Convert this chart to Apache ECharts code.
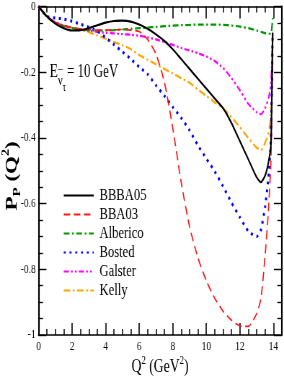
<!DOCTYPE html>
<html>
<head>
<meta charset="utf-8">
<script src="https://cdn.jsdelivr.net/npm/echarts@6/dist/echarts.min.js"></script>
<style>
html,body{margin:0;padding:0;background:#fff;overflow:hidden;width:284px;height:382px;}
#c{width:394px;height:382px;transform:scaleX(0.72081);transform-origin:0 0;}
</style>
</head>
<body>
<div id="c"></div>
<script>
// Q^2 sample points (GeV^2)
var q2 = [0, 0.5, 1, 1.5, 2, 2.5, 3, 3.5, 4, 4.5, 5, 5.5, 6, 6.5, 7, 7.5, 8, 8.5, 9, 9.5, 10, 10.5, 11, 11.5, 12, 12.5, 13, 13.25, 13.5, 13.7, 13.85, 13.95];
// Polarization P_P(Q^2)
var bbba05 = [0, -0.03, -0.052, -0.066, -0.073, -0.072, -0.066, -0.057, -0.049, -0.044, -0.043, -0.046, -0.055, -0.068, -0.085, -0.105, -0.13, -0.16, -0.19, -0.22, -0.25, -0.28, -0.31, -0.355, -0.41, -0.465, -0.52, -0.535, -0.515, -0.475, -0.42, -0.08];
var bba03 = [0, -0.03, -0.048, -0.058, -0.064, -0.068, -0.07, -0.072, -0.072, -0.071, -0.07, -0.072, -0.076, -0.1, -0.145, -0.23, -0.37, -0.535, -0.67, -0.765, -0.835, -0.888, -0.928, -0.955, -0.972, -0.974, -0.935, -0.89, -0.76, -0.62, -0.47, -0.08];
var alberico = [0, -0.032, -0.05, -0.06, -0.066, -0.07, -0.072, -0.073, -0.073, -0.072, -0.07, -0.068, -0.066, -0.064, -0.062, -0.06, -0.058, -0.057, -0.056, -0.055, -0.055, -0.055, -0.056, -0.058, -0.061, -0.066, -0.073, -0.077, -0.081, -0.083, -0.083, -0.035];
var bosted = [0, -0.03, -0.035, -0.038, -0.045, -0.054, -0.063, -0.075, -0.095, -0.116, -0.138, -0.16, -0.184, -0.206, -0.24, -0.272, -0.306, -0.339, -0.377, -0.423, -0.463, -0.502, -0.548, -0.597, -0.642, -0.684, -0.70, -0.68, -0.61, -0.52, -0.4, -0.08];
var galster = [0, -0.03, -0.048, -0.058, -0.065, -0.07, -0.074, -0.077, -0.08, -0.082, -0.084, -0.086, -0.089, -0.094, -0.1, -0.108, -0.117, -0.126, -0.134, -0.142, -0.152, -0.166, -0.187, -0.218, -0.255, -0.296, -0.322, -0.328, -0.31, -0.28, -0.24, -0.08];
var kelly = [0, -0.03, -0.048, -0.058, -0.065, -0.071, -0.078, -0.088, -0.098, -0.108, -0.118, -0.13, -0.148, -0.162, -0.176, -0.19, -0.204, -0.218, -0.232, -0.253, -0.272, -0.292, -0.31, -0.337, -0.367, -0.4, -0.43, -0.437, -0.415, -0.385, -0.33, -0.08];
var seriesNames = ['BBBA05', 'BBA03', 'Alberico', 'Bosted', 'Galster', 'Kelly'];
var xTicks = [0, 2, 4, 6, 8, 10, 12, 14];
var yTicks = [0, -0.2, -0.4, -0.6, -0.8, -1];

var FONT = '"Liberation Serif", "Times New Roman", serif';
var S = 0.72081; // horizontal condensing of the whole figure
function pairs(ys){ return q2.map(function(x,i){ return [x, ys[i]]; }); }
var styles = [
  {color:'#000000', width:2.1, type:'solid'},
  {color:'#ff1a1a', width:1.7, type:[9,5]},
  {color:'#009900', width:2.2, type:[8,3.5,2.5,3.5]},
  {color:'#0000ff', width:3, type:[2.8,5.2]},
  {color:'#ff00ff', width:2.2, type:[7,3,2.5,3,2.5,3]},
  {color:'#ffa500', width:2.2, type:[9,3.5,2.5,3.5]}
];
var dataSets = [bbba05, bba03, alberico, bosted, galster, kelly];
var series = dataSets.map(function(d,i){
  return {
    name: seriesNames[i], type:'line', data: pairs(d), showSymbol:false, symbol:'none',
    smooth: 0.2, xAxisIndex:0, yAxisIndex:0,
    lineStyle:{color:styles[i].color, width:styles[i].width, type:styles[i].type},
    itemStyle:{color:styles[i].color}, z: 10-i
  };
});

function xAx(pos, labels){
  return {
    type:'value', position:pos, min:0, max:14.5, interval:2,
    axisLine:{show:true, onZero:false, lineStyle:{color:'#000', width:1.6}},
    axisTick:{show:true, inside:true, length:12, lineStyle:{color:'#000', width:1.6}},
    minorTick:{show:true, splitNumber:4, length:6, lineStyle:{color:'#000', width:1.5}},
    splitLine:{show:false},
    axisLabel:{show:labels, margin:5, color:'#000', fontFamily:FONT, fontSize:13,
      formatter:function(v){ return xTicks.indexOf(v) >= 0 ? String(v) : ''; }}
  };
}
function yAx(pos, labels){
  return {
    type:'value', position:pos, min:-1, max:0, interval:0.2,
    axisLine:{show:true, onZero:false, lineStyle:{color:'#000', width:2.1}},
    axisTick:{show:true, inside:true, length:11, lineStyle:{color:'#000', width:1.4}},
    minorTick:{show:true, splitNumber:4, length:6.2, lineStyle:{color:'#000', width:1.3}},
    splitLine:{show:false},
    axisLabel:{show:labels, margin:4, color:'#000', fontFamily:FONT, fontSize:13,
      formatter:function(v){
        var r = Math.round(v*10)/10;
        for (var k=0;k<yTicks.length;k++){ if (Math.abs(yTicks[k]-r)<1e-9 && Math.abs(v-r)<1e-9) return String(yTicks[k]); }
        return '';
      }}
  };
}
function label(txt, left, top, size){
  return {type:'text', left:left/S, top:top, style:{text:txt, font:size + 'px ' + FONT, fill:'#000'}};
}

var chart = echarts.init(document.getElementById('c'), null, {renderer:'canvas', width:394, height:382});
chart.setOption({
  animation:false,
  backgroundColor:'#fff',
  grid:{left:38.5/S, right:2/S, top:5.7, bottom:47, containLabel:false},
  xAxis:[xAx('bottom', true), xAx('top', false)],
  yAxis:[yAx('left', true), yAx('right', false)],
  legend:{
    show:true, orient:'vertical', left:63/S, top:186, padding:0, itemWidth:30/S, itemHeight:19, itemGap:0,
    data: seriesNames,
    itemStyle:{opacity:0},
    textStyle:{fontFamily:FONT, fontSize:17.5, color:'#000', lineHeight:19, padding:[0,0,0,3]},
    selectedMode:false
  },
  series: series,
  graphic:[
    label('E', 49.5, 62.5, 19),
    label('ν', 58, 74.5, 14),
    label('–', 58, 62, 13),
    label('τ', 62.5, 82, 12),
    label('= 10 GeV', 67, 63.5, 18),
    {type:'text', x:12/S, y:176, rotation:Math.PI/2,
      style:{text:'{a|P}{s|P}{a| (Q}{p|2}{a|)}', align:'center', verticalAlign:'middle', fill:'#000',
        rich:{
          a:{fontFamily:FONT, fontSize:23, fontWeight:'bold', lineHeight:30, fill:'#000'},
          s:{fontFamily:FONT, fontSize:15, fontWeight:'bold', verticalAlign:'bottom', lineHeight:30, fill:'#000'},
          p:{fontFamily:FONT, fontSize:14, fontWeight:'bold', verticalAlign:'top', lineHeight:30, fill:'#000'}
        }}},
    {type:'text', x:160/S, y:367,
      style:{text:'{a|Q}{p|2}{a| (GeV}{p|2}{a|)}', align:'center', verticalAlign:'middle', fill:'#000',
        rich:{
          a:{fontFamily:FONT, fontSize:19, lineHeight:24, fill:'#000'},
          p:{fontFamily:FONT, fontSize:12, verticalAlign:'top', lineHeight:24, fill:'#000'}
        }}}
  ]
});
</script>
</body>
</html>
